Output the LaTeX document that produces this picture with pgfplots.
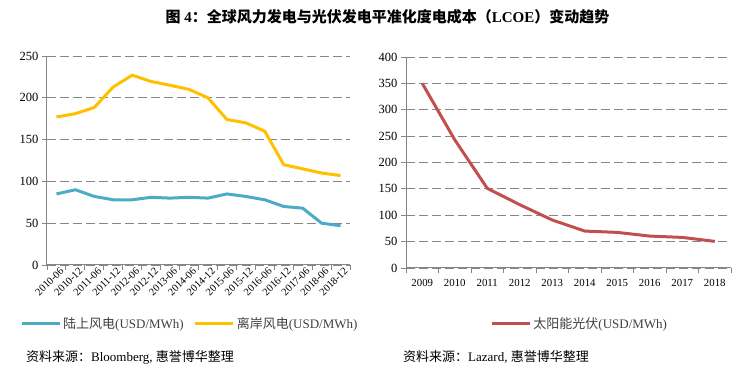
\documentclass[border=0pt]{standalone}
\usepackage{pgfplots}
\pgfplotsset{compat=1.18}
\usepackage{fontspec}
\setmainfont{Liberation Serif}
\newfontfamily\cjk{Noto Sans CJK SC}
\definecolor{onshore}{HTML}{4BACC6}
\definecolor{offshore}{HTML}{FFC000}
\definecolor{solar}{HTML}{C0504D}
\definecolor{axgray}{HTML}{868686}
\definecolor{legtext}{HTML}{404040}

\pgfplotsset{mystyle/.style={
  scale only axis,
  axis x line*=bottom, axis y line*=left,
  axis line style={axgray, line width=1pt},
  ymajorgrids,
  grid style={axgray, line width=0.9pt, dash pattern=on 9pt off 4pt},
  tick align=outside,
  tick style={axgray, line width=0.9pt},
  major tick length=5pt,
  /pgf/number format/assume math mode=true,
  yticklabel style={font=\fontsize{12.5}{12.5}\selectfont},
  xticklabels={},
  clip=false,
  legend style={draw=none, fill=none, font=\fontsize{13}{13}\selectfont, text=legtext,
    /tikz/every even column/.append style={column sep=8pt},
    nodes={inner xsep=2pt}},
  legend columns=2,
  legend cell align=left,
  legend image code/.code={\draw[##1] (0pt,0pt) -- (38pt,0pt);},
}}

\begin{document}
\begin{tikzpicture}
\useasboundingbox (0pt,0pt) rectangle (752pt,382pt);

\node[anchor=center, font=\fontsize{15}{15}\selectfont] at (387.5pt,365pt)
  {{\cjk\bfseries 图} \textbf{4}{\cjk\bfseries ：全球风力发电与光伏发电平准化度电成本（}\textbf{LCOE}{\cjk\bfseries ）变动趋势}};

\begin{axis}[mystyle,
  at={(47pt,117pt)}, anchor=south west,
  width=303pt, height=209pt,
  xmin=-0.5, xmax=15.5,
  ymin=0, ymax=250, ytick={0,50,...,250},
  xtick={-0.5,0.5,...,15.5},
  extra x ticks={0,1,...,15},
  extra x tick labels={2010-06,2010-12,2011-06,2011-12,2012-06,2012-12,2013-06,2014-06,2014-12,2015-06,2015-12,2016-06,2016-12,2017-06,2018-06,2018-12},
  extra x tick style={major tick length=0pt, tick style={draw=none},
    tick label style={rotate=45, anchor=north east, font=\fontsize{10.5}{10.5}\selectfont, inner sep=1pt, xshift=2pt, yshift=-2pt}},
  legend style={at={(axis description cs:-0.099,-0.282)}, anchor=west},
]
\addplot[onshore, line width=3pt, line join=round] coordinates {
(0,85) (1,90) (2,82) (3,78) (4,78) (5,81) (6,80) (7,81) (8,80) (9,85) (10,82) (11,78) (12,70) (13,68) (14,50) (15,47)};
\addlegendentry{{\cjk 陆上风电}(USD/MWh)}
\addplot[offshore, line width=3pt, line join=round] coordinates {
(0,177) (1,181) (2,188.5) (3,213) (4,227) (5,219.5) (6,215) (7,210) (8,200) (9,174) (10,170) (11,160) (12,120) (13,115) (14,110) (15,107)};
\addlegendentry{{\cjk 离岸风电}(USD/MWh)}
\end{axis}

\begin{axis}[mystyle,
  at={(406pt,114pt)}, anchor=south west,
  width=325pt, height=211pt,
  xmin=-0.5, xmax=9.5,
  ymin=0, ymax=400, ytick={0,50,...,400},
  xtick={-0.5,0.5,...,9.5},
  extra x ticks={0,1,...,9},
  extra x tick labels={2009,2010,2011,2012,2013,2014,2015,2016,2017,2018},
  extra x tick style={major tick length=0pt, tick style={draw=none},
    tick label style={font=\fontsize{10.8}{10.8}\selectfont, yshift=-8pt}},
  legend style={at={(axis description cs:0.25,-0.265)}, anchor=west},
]
\addplot[solar, line width=3pt, line join=round] coordinates {
(0,350) (1,243) (2,151) (3,120) (4,91) (5,70) (6,67.5) (7,60.5) (8,58) (9,50.5)};
\addlegendentry{{\cjk 太阳能光伏}(USD/MWh)}
\end{axis}

\node[anchor=west, font=\fontsize{13}{13}\selectfont, inner sep=0pt] at (26pt,25pt)
  {{\cjk 资料来源：}Bloomberg, {\cjk 惠誉博华整理}};
\node[anchor=west, font=\fontsize{13}{13}\selectfont, inner sep=0pt] at (403pt,25pt)
  {{\cjk 资料来源：}Lazard, {\cjk 惠誉博华整理}};
\end{tikzpicture}
\end{document}
